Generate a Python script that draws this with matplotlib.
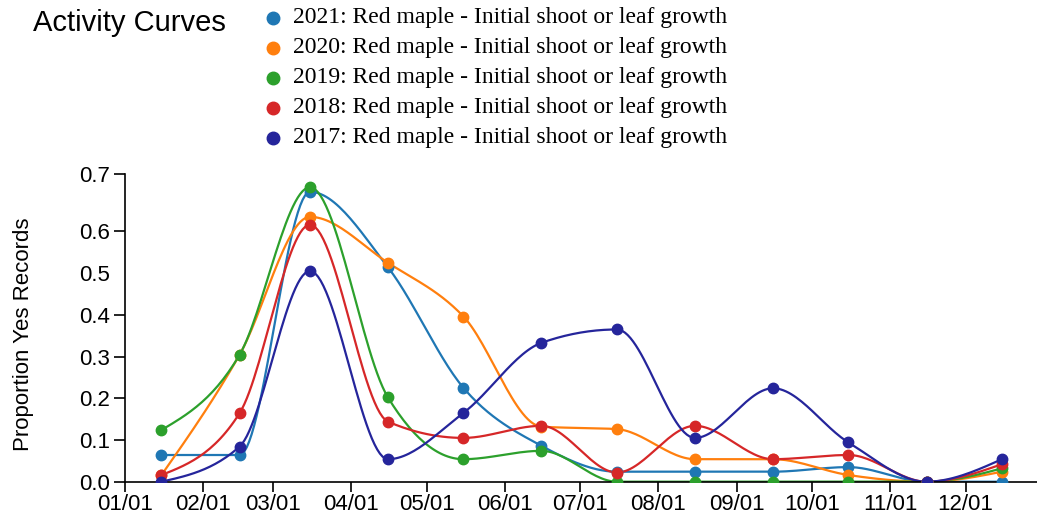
import numpy as np
import matplotlib
matplotlib.use('Agg')
import matplotlib.pyplot as plt
import matplotlib.dates as mdates
from matplotlib.lines import Line2D

# data (one point per month, plotted mid-month)
months = np.arange(1, 13)
y2021 = [0.064, 0.064, 0.695, 0.514, 0.225, 0.086, 0.024, 0.024, 0.024, 0.035, 0.0, 0.0]
y2020 = [0.016, 0.304, 0.635, 0.525, 0.396, 0.132, 0.126, 0.054, 0.054, 0.016, 0.0, 0.024]
y2019 = [0.124, 0.304, 0.706, 0.202, 0.054, 0.074, 0.0, 0.0, 0.0, 0.0, 0.0, 0.032]
y2018 = [0.016, 0.164, 0.616, 0.144, 0.105, 0.134, 0.022, 0.134, 0.054, 0.064, 0.0, 0.042]
y2017 = [0.0, 0.084, 0.505, 0.054, 0.165, 0.333, 0.365, 0.105, 0.224, 0.094, 0.0, 0.054]

series = [
    ('2021', y2021, '#1f77b4'),
    ('2020', y2020, '#ff7f0e'),
    ('2019', y2019, '#2ca02c'),
    ('2018', y2018, '#d62728'),
    ('2017', y2017, '#25259b'),
]
label_tail = ': Red maple - Initial shoot or leaf growth'


def monotone_x(x, y, n=30):
    # cubic hermite with d3 curveMonotoneX style tangents
    x = np.asarray(x, float)
    y = np.asarray(y, float)
    h = np.diff(x)
    s = np.diff(y) / h
    t = np.zeros_like(y)
    for i in range(1, len(y) - 1):
        p = (s[i - 1] * h[i] + s[i] * h[i - 1]) / (h[i - 1] + h[i])
        t[i] = (np.sign(s[i - 1]) + np.sign(s[i])) * min(abs(s[i - 1]), abs(s[i]), 0.5 * abs(p))
    t[0] = (3 * s[0] - t[1]) / 2
    t[-1] = (3 * s[-1] - t[-2]) / 2
    xs, ys = [], []
    for i in range(len(h)):
        u = np.linspace(0, 1, n)
        h00 = 2 * u**3 - 3 * u**2 + 1
        h10 = u**3 - 2 * u**2 + u
        h01 = -2 * u**3 + 3 * u**2
        h11 = u**3 - u**2
        xs.append(x[i] + u * h[i])
        ys.append(h00 * y[i] + h10 * h[i] * t[i] + h01 * y[i + 1] + h11 * h[i] * t[i + 1])
    return np.concatenate(xs), np.concatenate(ys)


dates = np.array(['2021-%02d-15T12' % m for m in months], dtype='datetime64[h]')
xnum = mdates.date2num(dates.astype('O'))

W, H = 1037, 518
fig = plt.figure(figsize=(W / 100, H / 100), dpi=100)
ax = fig.add_axes([125 / W, (H - 481.7) / H, (1041 - 125) / W, (481.7 - 174) / H])

for name, vals, col in series:
    sx, sy = monotone_x(xnum, vals)
    ax.plot(sx, sy, color=col, lw=1.6, solid_capstyle='round', zorder=2)
    ax.plot(xnum, vals, 'o', color=col, ms=7.5, zorder=3)

ymax = max(max(v) for _, v, _ in series) * 1.045
ax.set_ylim(0, ymax)
ax.set_xlim(mdates.date2num(np.datetime64('2021-01-01').astype('O')),
            mdates.date2num(np.datetime64('2021-12-31').astype('O')))

yt = [0, 0.1, 0.2, 0.3, 0.4, 0.5, 0.6, ymax]
ax.set_yticks(yt)
ax.set_yticklabels(['%.1f' % v for v in yt])
ax.yaxis.get_major_ticks()[5].tick1line.set_visible(False)

ax.xaxis.set_major_locator(mdates.MonthLocator())
ax.xaxis.set_major_formatter(mdates.DateFormatter('%m/%d'))

for sp in ['top', 'right']:
    ax.spines[sp].set_visible(False)
ax.spines['left'].set_linewidth(1.2)
ax.spines['bottom'].set_linewidth(1.2)
ax.tick_params(axis='y', length=8, width=1.2, labelsize=16, pad=3)
ax.tick_params(axis='x', length=7, width=1.2, labelsize=16, pad=2)
for lab in ax.get_xticklabels() + ax.get_yticklabels():
    lab.set_fontfamily('Liberation Sans')
ax.set_ylabel('Proportion Yes Records', fontsize=16, family='Liberation Sans')
ax.yaxis.set_label_coords(-91 / (1041 - 125), 0.48)

fig.text(33 / W, 1 - 23 / H, 'Activity Curves', fontsize=21, family='Liberation Sans',
         va='center', ha='left')
for i, (name, vals, col) in enumerate(series):
    yy = 1 - (18 + 30 * i) / H
    fig.add_artist(Line2D([273 / W], [yy], marker='o', ms=9, color=col, transform=fig.transFigure))
    fig.text(293 / W, yy, name + label_tail, fontsize=17, family='Liberation Serif',
             va='center', ha='left')

fig.savefig('out.png', dpi=100)
